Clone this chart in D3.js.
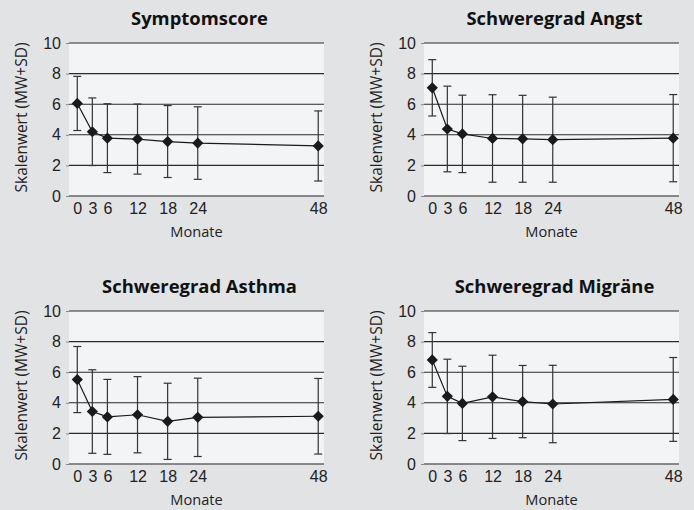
<!DOCTYPE html>
<html>
<head>
<meta charset="utf-8">
<script src="https://cdn.jsdelivr.net/npm/d3@7"></script>
<style>
  body { margin: 0; background: #e2e3e5; }
  svg { display: block; font-family: "Open Sans", "Noto Sans", sans-serif; }
</style>
</head>
<body>
<svg id="chart" width="694" height="510"></svg>
<script>
/****** Data *******/
const months = [0, 3, 6, 12, 18, 24, 48];
const xTicks = [0, 3, 6, 12, 18, 24, 48];
const yTicks = [0, 2, 4, 6, 8, 10];

const titles = ["Symptomscore", "Schweregrad Angst", "Schweregrad Asthma", "Schweregrad Migräne"];

const symptomMean = [6.05, 4.2, 3.78, 3.72, 3.56, 3.46, 3.27];
const symptomSd   = [1.77, 2.21, 2.25, 2.29, 2.35, 2.37, 2.29];

const angstMean = [7.07, 4.38, 4.06, 3.76, 3.74, 3.68, 3.78];
const angstSd   = [1.84, 2.8, 2.53, 2.86, 2.84, 2.78, 2.85];

const asthmaMean = [5.52, 3.43, 3.08, 3.22, 2.79, 3.05, 3.12];
const asthmaSd   = [2.16, 2.73, 2.45, 2.49, 2.49, 2.56, 2.47];

const migraeneMean = [6.8, 4.42, 3.96, 4.39, 4.08, 3.92, 4.22];
const migraeneSd   = [1.79, 2.43, 2.43, 2.72, 2.36, 2.53, 2.74];

const panels = [
    {title: titles[0], mean: symptomMean, sd: symptomSd, left: 69, top: 43},
    {title: titles[1], mean: angstMean, sd: angstSd, left: 424, top: 43},
    {title: titles[2], mean: asthmaMean, sd: asthmaSd, left: 69, top: 311},
    {title: titles[3], mean: migraeneMean, sd: migraeneSd, left: 424, top: 311}
];

var plotW = 255, plotH = 153;
var svg = d3.select("#chart");

/** Draw one panel **/
function drawPanel(p) {
    var data = months.map(function (m, i) {
        return {month: m, mean: p.mean[i], sd: p.sd[i]};
    });

    var x = d3.scaleLinear().domain([-1.65, 49.15]).range([0, plotW]);
    var y = d3.scaleLinear().domain([0, 10]).range([plotH, 0]);

    var g = svg.append("g")
        .attr("transform", "translate(" + p.left + "," + p.top + ")");

    g.append("rect")
        .attr("width", plotW)
        .attr("height", plotH)
        .attr("fill", "#f3f4f6");

    // gridlines
    g.selectAll(".grid")
        .data(yTicks)
        .enter().append("line")
        .attr("x1", 0)
        .attr("x2", plotW)
        .attr("y1", d => y(d))
        .attr("y2", d => y(d))
        .attr("stroke", d => d === 0 ? "#666" : "#2a2a2a")
        .attr("stroke-width", d => d === 0 ? 1.4 : 1.1);

    // y axis
    var yAxis = g.append("g")
        .call(d3.axisLeft(y).tickValues(yTicks).tickSize(3).tickPadding(5));
    yAxis.select(".domain").remove();
    yAxis.selectAll(".tick line").attr("stroke", "#888");
    yAxis.selectAll("text")
        .attr("font-size", 16)
        .attr("fill", "#222");

    // x axis
    var xAxis = g.append("g")
        .attr("transform", "translate(0," + plotH + ")")
        .call(d3.axisBottom(x).tickValues(xTicks).tickSize(0).tickPadding(7));
    xAxis.select(".domain").remove();
    xAxis.selectAll("text")
        .attr("font-size", 16)
        .attr("fill", "#222");

    // labels
    g.append("text")
        .attr("x", plotW / 2 + 3)
        .attr("y", -18)
        .attr("text-anchor", "middle")
        .attr("font-size", 18.4)
        .attr("font-weight", "bold")
        .attr("fill", "#111")
        .text(p.title);

    g.append("text")
        .attr("x", plotW / 2)
        .attr("y", plotH + 41)
        .attr("text-anchor", "middle")
        .attr("font-size", 14.6)
        .attr("fill", "#222")
        .text("Monate");

    g.append("text")
        .attr("transform", "translate(" + (-42) + "," + (plotH / 2 - 2) + ") rotate(-90)")
        .attr("text-anchor", "middle")
        .attr("font-size", 15.5)
        .attr("fill", "#222")
        .text("Skalenwert (MW+SD)");

    // error bars
    var bars = g.selectAll(".err")
        .data(data)
        .enter().append("g")
        .attr("stroke", "#333")
        .attr("stroke-width", 1.2);
    bars.append("line")
        .attr("x1", d => x(d.month))
        .attr("x2", d => x(d.month))
        .attr("y1", d => y(d.mean + d.sd))
        .attr("y2", d => y(d.mean - d.sd));
    bars.append("line")
        .attr("x1", d => x(d.month) - 4)
        .attr("x2", d => x(d.month) + 4)
        .attr("y1", d => y(d.mean + d.sd))
        .attr("y2", d => y(d.mean + d.sd));
    bars.append("line")
        .attr("x1", d => x(d.month) - 4)
        .attr("x2", d => x(d.month) + 4)
        .attr("y1", d => y(d.mean - d.sd))
        .attr("y2", d => y(d.mean - d.sd));

    // mean line
    var line = d3.line()
        .x(d => x(d.month))
        .y(d => y(d.mean));
    g.append("path")
        .datum(data)
        .attr("fill", "none")
        .attr("stroke", "#1a1a1a")
        .attr("stroke-width", 1.2)
        .attr("d", line);

    // diamonds
    g.selectAll(".pt")
        .data(data)
        .enter().append("path")
        .attr("transform", d => "translate(" + x(d.month) + "," + y(d.mean) + ")")
        .attr("d", d3.symbol().type(d3.symbolDiamond2).size(80))
        .attr("fill", "#1a1a1a");
}

panels.forEach(drawPanel);
</script>
</body>
</html>
